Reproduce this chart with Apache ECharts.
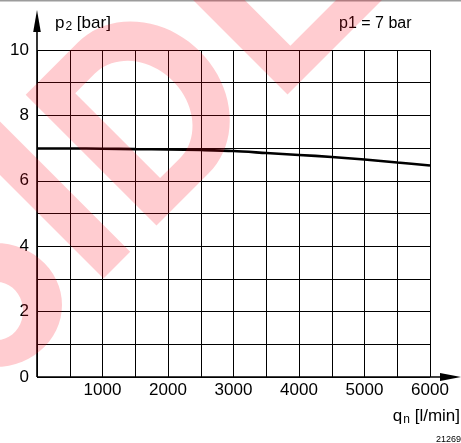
<!DOCTYPE html>
<html>
<head>
<meta charset="utf-8">
<script src="https://cdn.jsdelivr.net/npm/echarts@6/dist/echarts.min.js"></script>
<style>
html,body{margin:0;padding:0;background:#fff;}
#c{width:461px;height:443px;}
</style>
</head>
<body>
<div id="c"></div>
<script>
// ---- data ----
const flowRates = [0, 500, 1000, 1500, 2000, 2500, 3000, 3500, 4000, 4500, 5000, 5500, 6000];
const outletPressure = [6.99, 6.99, 6.98, 6.97, 6.96, 6.94, 6.91, 6.85, 6.79, 6.73, 6.65, 6.56, 6.47];
const xTickLabels = ['1000', '2000', '3000', '4000', '5000', '6000'];
const yTickLabels = ['0', '2', '4', '6', '8', '10'];
const inletLabel = 'p1 = 7 bar';
const drawingNumber = '21269';

const FONT = 'Liberation Sans, Arial, sans-serif';
const chart = echarts.init(document.getElementById('c'), null, {renderer: 'canvas'});

chart.setOption({
  animation: false,
  backgroundColor: '#fff',
  grid: {left: 37, right: 31, top: 50, bottom: 66, outerBoundsMode: 'none'},
  xAxis: {
    type: 'value', min: 0, max: 6000, interval: 500,
    axisLine: {show: false}, axisTick: {show: false},
    splitLine: {show: true, lineStyle: {color: '#000', width: 1}},
    axisLabel: {
      color: '#000', fontSize: 17, fontFamily: FONT, margin: 5,
      formatter: v => xTickLabels.indexOf(String(v)) >= 0 ? String(v) : ''
    }
  },
  yAxis: {
    type: 'value', min: 0, max: 10, interval: 1,
    axisLine: {show: false}, axisTick: {show: false},
    splitLine: {show: true, lineStyle: {color: '#000', width: 1}},
    axisLabel: {
      color: '#000', fontSize: 17, fontFamily: FONT, margin: 8,
      formatter: v => yTickLabels.indexOf(String(v)) >= 0 ? String(v) : ''
    }
  },
  series: [{
    type: 'line',
    data: flowRates.map((x, i) => [x, outletPressure[i]]),
    smooth: 0.3,
    showSymbol: false,
    lineStyle: {color: '#000', width: 2.6},
    z: 5
  }]
});

// ---- decorations computed from the axes ----
const o = chart.convertToPixel({gridIndex: 0}, [0, 0]);
const t = chart.convertToPixel({gridIndex: 0}, [0, 10]);
const r = chart.convertToPixel({gridIndex: 0}, [6000, 0]);

// watermark geometry (rotated block letters, local u/v frame)
const S2 = Math.SQRT2, BASE = 382;
function wm(u, v) { return [(u * S2 + BASE - v * S2) / 2, (BASE - v * S2 - u * S2) / 2]; }
function arc(cu, cv, a, b, t0, t1, n) {
  const p = [];
  for (let i = 0; i <= n; i++) { const k = t0 + (t1 - t0) * i / n; p.push([cu + a * Math.cos(k), cv + b * Math.sin(k)]); }
  return p;
}
// outer contour + slit + reversed inner contour = one simple polygon with a hole
function withHole(outer, inner) {
  return outer.concat([outer[0]], inner, [inner[0], outer[0]]);
}
const dOuter = [[-48.8, 0], [-48.8, 185], [25, 185]].concat(arc(25, 92.5, 80, 92.5, Math.PI / 2, -Math.PI / 2, 40), [[25, 0]]).map(p => wm(p[0], p[1]));
const dInner = [[-12.7, 31], [15, 31]].concat(arc(15, 91, 50, 60, -Math.PI / 2, Math.PI / 2, 40), [[-12.7, 151]]).map(p => wm(p[0], p[1]));
const iBand = [[-123.7, 0], [-86, 0], [-86, 260], [-123.7, 260]].map(p => wm(p[0], p[1]));
const lCorner = [[136.5, 0], [400, 0], [400, 32.5], [173, 32.5], [173, 260], [136.5, 260]].map(p => wm(p[0], p[1]));
const bowlOuter = arc(-5, 305, 67, 62, -Math.PI, Math.PI, 60);
const bowlInner = arc(-3, 311, 26, 29, Math.PI, -Math.PI, 40);
const WM_FILL = 'rgba(255,0,20,0.2)';
function wmPoly(points) {
  return {type: 'polygon', z: 100, silent: true, shape: {points: points}, style: {fill: WM_FILL}};
}

chart.setOption({
  graphic: [
    {type: 'rect', z: 60, silent: true, shape: {x: 0, y: 0, width: 461, height: 1.6}, style: {fill: '#9c9c9c'}},
    // y axis with arrow
    {type: 'line', z: 50, silent: true, shape: {x1: o[0], y1: o[1], x2: o[0], y2: t[1] - 22}, style: {stroke: '#000', lineWidth: 1.6}},
    {type: 'polygon', z: 50, silent: true, shape: {points: [[o[0], t[1] - 40], [o[0] - 3.8, t[1] - 18], [o[0] + 3.8, t[1] - 18]]}, style: {fill: '#000'}},
    // x axis with arrow
    {type: 'line', z: 50, silent: true, shape: {x1: o[0], y1: o[1], x2: r[0] + 12, y2: o[1]}, style: {stroke: '#000', lineWidth: 1.6}},
    {type: 'polygon', z: 50, silent: true, shape: {points: [[r[0] + 31, o[1]], [r[0] + 10, o[1] - 4], [r[0] + 10, o[1] + 4]]}, style: {fill: '#000'}},
    // axis titles and notes
    {type: 'text', z: 60, silent: true, x: 55, y: 23, style: {
      text: '{a|p}{s|2}{a| [bar]}', verticalAlign: 'middle', fill: '#000',
      rich: {a: {fontSize: 17, fontFamily: FONT, fill: '#000'}, s: {fontSize: 12, fontFamily: FONT, fill: '#000', padding: [7, 0, 0, 1]}}
    }},
    {type: 'text', z: 60, silent: true, x: 339, y: 24, style: {
      text: inletLabel, fontSize: 16, fontFamily: FONT, fill: '#000', verticalAlign: 'middle'
    }},
    {type: 'text', z: 60, silent: true, x: 460, y: 416, style: {
      text: '{a|q}{s|n}{a| [l/min]}', align: 'right', verticalAlign: 'middle', fill: '#000',
      rich: {a: {fontSize: 17, fontFamily: FONT, fill: '#000'}, s: {fontSize: 12, fontFamily: FONT, fill: '#000', padding: [7, 0, 0, 1]}}
    }},
    {type: 'text', z: 60, silent: true, x: 461, y: 440, style: {
      text: drawingNumber, fontSize: 9, fontFamily: FONT, fill: '#000', align: 'right', verticalAlign: 'middle'
    }},
    // translucent watermark shapes
    wmPoly(withHole(dOuter, dInner)),
    wmPoly(iBand),
    wmPoly(lCorner),
    wmPoly(withHole(bowlOuter, bowlInner))
  ]
});
</script>
</body>
</html>
